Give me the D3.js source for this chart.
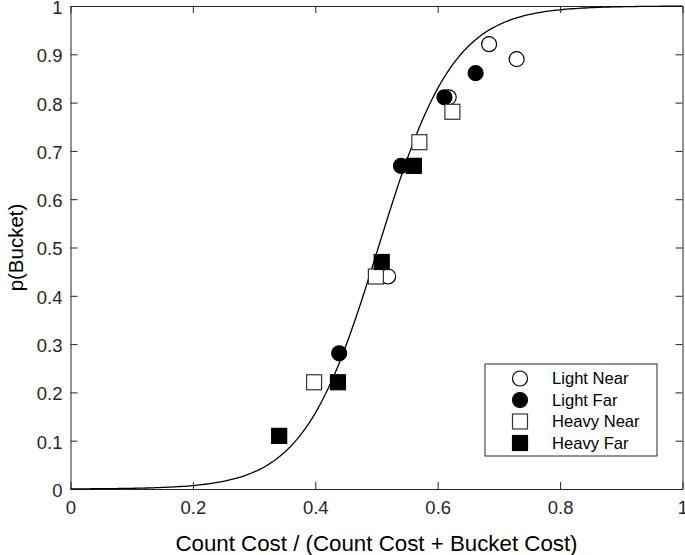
<!DOCTYPE html>
<html>
<head>
<meta charset="utf-8">
<script src="https://cdn.jsdelivr.net/npm/d3@7"></script>
<style>
  body { margin: 0; background: #fff; }
  svg { display: block; font-family: "Liberation Sans", Arial, sans-serif; }
  .axis path, .axis line { stroke: #262626; }
  .axis text { fill: #262626; }
</style>
</head>
<body>
<div id="chart"></div>
<script>
// observed proportions, one array pair per condition
const lightNearX = [0.684, 0.729, 0.618, 0.519];
const lightNearY = [0.921, 0.890, 0.811, 0.440];
const lightFarX  = [0.662, 0.611, 0.540, 0.439];
const lightFarY  = [0.861, 0.811, 0.669, 0.281];
const heavyNearX = [0.624, 0.570, 0.499, 0.398];
const heavyNearY = [0.781, 0.718, 0.440, 0.221];
const heavyFarX  = [0.5085, 0.561, 0.437, 0.341];
const heavyFarY  = [0.470, 0.669, 0.221, 0.110];

const seriesNames = ["Light Near", "Light Far", "Heavy Near", "Heavy Far"];
const tickValues = [0, 0.1, 0.2, 0.3, 0.4, 0.5, 0.6, 0.7, 0.8, 0.9, 1];
const xTickValues = [0, 0.2, 0.4, 0.6, 0.8, 1];

// fitted logistic shown as the solid line
const fitMidpoint = 0.503;
const fitSlope = 16.3;

const width = 685, height = 555;
const margin = {left: 70.5, right: 2.5, top: 6, bottom: 66};

const svg = d3.select("#chart").append("svg")
    .attr("width", width)
    .attr("height", height);

const x = d3.scaleLinear().domain([0, 1]).range([margin.left, width - margin.right]);
const y = d3.scaleLinear().domain([0, 1]).range([height - margin.bottom, margin.top]);

const fmt = d3.format("~g");

// axes, ticks pointing inward on all four sides
svg.append("g").attr("class", "axis")
    .attr("transform", "translate(0," + y(0) + ")")
    .call(d3.axisBottom(x).tickValues(xTickValues).tickFormat(fmt)
        .tickSizeInner(-7).tickSizeOuter(0).tickPadding(12))
    .call(g => g.selectAll("text").attr("font-size", 18.5));

svg.append("g").attr("class", "axis")
    .attr("transform", "translate(" + x(0) + ",0)")
    .call(d3.axisLeft(y).tickValues(tickValues).tickFormat(fmt)
        .tickSizeInner(-7).tickSizeOuter(0).tickPadding(8))
    .call(g => g.selectAll("text").attr("font-size", 18.5).attr("dy", "0.4em"));

svg.append("g").attr("class", "axis")
    .attr("transform", "translate(0," + y(1) + ")")
    .call(d3.axisTop(x).tickValues(xTickValues).tickFormat("")
        .tickSizeInner(-7).tickSizeOuter(0));

svg.append("g").attr("class", "axis")
    .attr("transform", "translate(" + x(1) + ",0)")
    .call(d3.axisRight(y).tickValues(tickValues).tickFormat("")
        .tickSizeInner(-7).tickSizeOuter(0));

svg.selectAll(".axis text").attr("font-family", "\"Liberation Sans\", Arial, sans-serif");

// axis titles
svg.append("text")
    .attr("x", (x(0) + x(1)) / 2)
    .attr("y", 551)
    .attr("text-anchor", "middle")
    .attr("font-size", 22.3)
    .attr("fill", "#000")
    .text("Count Cost / (Count Cost + Bucket Cost)");

svg.append("text")
    .attr("transform", "translate(23," + (y(0) + y(1)) / 2 + ") rotate(-90)")
    .attr("text-anchor", "middle")
    .attr("font-size", 20.5)
    .attr("fill", "#000")
    .text("p(Bucket)");

// fit curve
const curveX = d3.range(0, 1.0001, 0.005);
const logistic = v => 1 / (1 + Math.exp(-fitSlope * (v - fitMidpoint)));
svg.append("path")
    .datum(curveX)
    .attr("fill", "none")
    .attr("stroke", "#000")
    .attr("stroke-width", 1.3)
    .attr("d", d3.line().x(d => x(d)).y(d => y(logistic(d))));

// markers
const markerSize = 15;
function drawMarker(g, shape, filled, cx, cy) {
    const fill = filled ? "#000" : "#fff";
    if (shape === "circle") {
        g.append("circle")
            .attr("cx", cx).attr("cy", cy).attr("r", markerSize / 2)
            .attr("fill", fill).attr("stroke", "#000").attr("stroke-width", 1.2);
    } else {
        g.append("rect")
            .attr("x", cx - markerSize / 2).attr("y", cy - markerSize / 2)
            .attr("width", markerSize).attr("height", markerSize)
            .attr("fill", fill).attr("stroke", filled ? "#000" : "#333").attr("stroke-width", 1.2);
    }
}

const series = [
    {name: seriesNames[0], xs: lightNearX, ys: lightNearY, shape: "circle", filled: false},
    {name: seriesNames[1], xs: lightFarX, ys: lightFarY, shape: "circle", filled: true},
    {name: seriesNames[2], xs: heavyNearX, ys: heavyNearY, shape: "square", filled: false},
    {name: seriesNames[3], xs: heavyFarX, ys: heavyFarY, shape: "square", filled: true}
];

const pts = svg.append("g");
series.forEach(s => {
    s.xs.forEach((v, i) => drawMarker(pts, s.shape, s.filled, x(v), y(s.ys[i])));
});

// legend
const legend = svg.append("g").attr("transform", "translate(485,364)");
legend.append("rect")
    .attr("width", 172).attr("height", 92)
    .attr("fill", "#fff").attr("stroke", "#262626").attr("stroke-width", 1);
series.forEach((s, i) => {
    const ly = 14.5 + i * 21.5;
    drawMarker(legend, s.shape, s.filled, 35, ly);
    legend.append("text")
        .attr("x", 67).attr("y", ly)
        .attr("dy", "0.36em")
        .attr("font-size", 16.6)
        .attr("fill", "#000")
        .text(s.name);
});
</script>
</body>
</html>
